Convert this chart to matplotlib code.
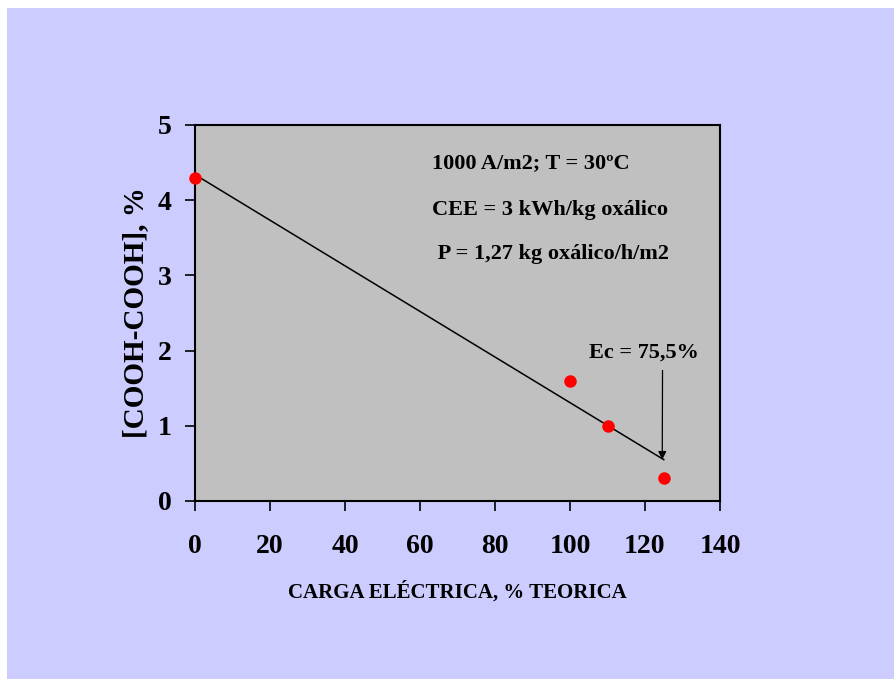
import matplotlib.pyplot as plt
from matplotlib.patches import Rectangle

# measured points
carga = [0, 100, 110, 125]
oxalico = [4.3, 1.6, 1.0, 0.3]

# trend line end points
trend_x = [0, 125]
trend_y = [4.34, 0.55]

xticks = [0, 20, 40, 60, 80, 100, 120, 140]
yticks = [0, 1, 2, 3, 4, 5]

notes = ["1000 A/m2; T = 30ºC", "CEE = 3 kWh/kg oxálico", " P = 1,27 kg oxálico/h/m2"]

plt.rcParams["font.family"] = ["Liberation Serif", "DejaVu Serif"]
plt.rcParams["font.weight"] = "bold"

fig = plt.figure(figsize=(8.95, 6.79), dpi=100)
fig.patch.set_facecolor("white")
fig.patches.append(Rectangle((7 / 895, 0), 1, 1 - 8 / 679, transform=fig.transFigure,
                             facecolor="#CCCCFF", edgecolor="none", zorder=-10))

ax = fig.add_axes([195 / 895, 1 - 501 / 679, 525 / 895, 376 / 679])
ax.set_facecolor("#C0C0C0")

ax.plot(trend_x, trend_y, color="black", lw=1.1, zorder=2)
ax.plot(carga, oxalico, "o", color="#FF0000", markersize=9, markeredgewidth=0, zorder=3,
        clip_on=False)

ax.set_xlim(0, 140)
ax.set_ylim(0, 5)
ax.set_xticks(xticks)
ax.set_yticks(yticks)
ax.tick_params(axis="x", direction="out", length=7, width=1.2, pad=17, labelsize=20)
ax.tick_params(axis="y", direction="out", length=7, width=1.2, pad=10, labelsize=20)
for lab in ax.get_xticklabels() + ax.get_yticklabels():
    lab.set_fontweight("bold")
for s in ax.spines.values():
    s.set_linewidth(1.5)

ax.set_ylabel("[COOH-COOH], %", fontsize=21, fontweight="bold", labelpad=6)
ax.set_xlabel("CARGA ELÉCTRICA, % TEORICA", fontsize=15, fontweight="bold", labelpad=16)

for i, t in enumerate(notes):
    ax.text(63.2, [4.49, 3.87, 3.28][i], t, fontsize=16, fontweight="bold",
            ha="left", va="center")

ax.annotate("Ec = 75,5%", xy=(124.6, 0.55), xytext=(119.7, 1.98),
            fontsize=16, fontweight="bold", ha="center", va="center",
            arrowprops=dict(arrowstyle="-|>", color="black", lw=0.9,
                            shrinkA=6, shrinkB=0, mutation_scale=12,
                            patchA=None, relpos=(0.67, 0)))

fig.savefig("out.png", dpi=100)
